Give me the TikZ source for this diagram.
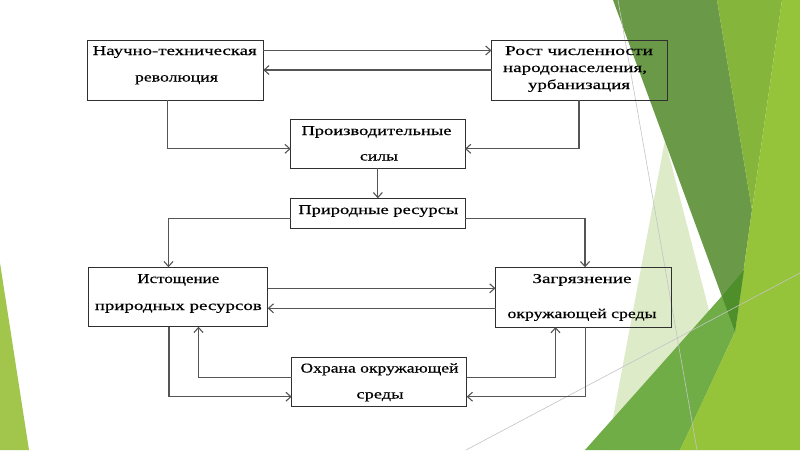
\documentclass[tikz,border=0pt]{standalone}
\usepackage{fontspec}
\setmainfont{Liberation Serif}[FakeBold=0.4]
\usepackage{graphicx}
\usetikzlibrary{arrows.meta}
\definecolor{boxc}{HTML}{303030}
\definecolor{linec}{HTML}{555555}
\definecolor{gpale}{HTML}{DDEBC8}
\definecolor{gmed}{HTML}{70AD47}
\definecolor{gdark}{HTML}{6A9A48}
\definecolor{gmid}{HTML}{86B53B}
\definecolor{gbright}{HTML}{95C33A}
\definecolor{gdeep}{HTML}{4F8F2B}
\definecolor{gleft}{HTML}{A2C64C}
\definecolor{gline}{HTML}{C4C4C4}
\newcommand\stt[2]{\resizebox{#1pt}{\height}{#2}}
\begin{document}
\begin{tikzpicture}[x=1pt,y=-1pt,
  box/.style={draw=boxc, line width=1pt, rectangle, inner sep=0pt, outer sep=0pt},
  txt/.style={anchor=base, inner sep=0pt, font=\fontsize{13.5}{14}\selectfont, text=black},
  arr/.style={draw=linec, line width=1.1pt, -{Straight Barb[length=5pt,width=9pt]}}]
\useasboundingbox (0,0) rectangle (800,450);
\fill[white] (0,0) rectangle (800,450);
% background facets
\fill[gleft] (0,263) -- (29,450) -- (0,450) -- cycle;
\fill[gpale] (665,140) -- (607,450) -- (745,450) -- cycle;
\fill[gmed] (585,450) -- (722,296) -- (735,332) -- (680,450) -- cycle;
\fill[gdark] (613,0) -- (717,0) -- (752,210) -- (735,332) -- cycle;
\fill[gmid] (717,0) -- (782,0) -- (752,210) -- cycle;
\fill[gbright] (782,0) -- (800,0) -- (800,450) -- (680,450) -- (735,332) -- (752,210) -- cycle;
\fill[gdeep] (722,296) -- (744,270) -- (735,332) -- cycle;
\draw[gline, line width=0.6pt] (618,0) -- (697,450);
\draw[gline, line width=0.6pt] (466,450) -- (800,273);
% boxes
\node[box, minimum width=176pt, minimum height=59.3pt] (b1) at (175.3,70.35) {};
\node[box, minimum width=175.5pt, minimum height=59.3pt] (b2) at (579.25,70.35) {};
\node[box, minimum width=174.3pt, minimum height=49pt] (b3) at (377.85,143.8) {};
\node[box, minimum width=174.3pt, minimum height=30pt] (b4) at (377.85,213.3) {};
\node[box, minimum width=179.4pt, minimum height=59.4pt] (b5) at (178,297) {};
\node[box, minimum width=176.2pt, minimum height=59.7pt] (b6) at (583.6,297.15) {};
\node[box, minimum width=175pt, minimum height=48.7pt] (b7) at (379.2,381.65) {};
% texts
\node[txt] (t1a) at (174.7,55) {\stt{164}{Научно-техническая}};
\node[txt] (t1b) at (176.5,81.5) {\stt{83}{революция}};
\node[txt] (t2a) at (579,55) {\stt{148}{Рост численности}};
\node[txt] (t2b) at (575,72) {\stt{144}{народонаселения,}};
\node[txt] (t2c) at (579,89) {\stt{102}{урбанизация}};
\node[txt] (t3a) at (376.5,135) {\stt{150}{Производительные}};
\node[txt] (t3b) at (379,160.5) {\stt{38}{силы}};
\node[txt] (t4) at (378.3,214) {\stt{160}{Природные ресурсы}};
\node[txt] (t5a) at (178.3,283) {\stt{82}{Истощение}};
\node[txt] (t5b) at (178.3,310) {\stt{167}{природных ресурсов}};
\node[txt] (t6a) at (582,283) {\stt{99}{Загрязнение}};
\node[txt] (t6b) at (582,318) {\stt{149}{окружающей среды}};
\node[txt] (t7a) at (379.5,372.5) {\stt{158}{Охрана окружающей}};
\node[txt] (t7b) at (380,398.5) {\stt{47}{среды}};
% bend coordinates
\coordinate (k12) at (0,50.5);
\coordinate (k21) at (0,70);
\coordinate (k13) at (167.7,148.8);
\coordinate (k23) at (579,148.8);
\coordinate (k45) at (168.5,218.3);
\coordinate (k46) at (585,218.3);
\coordinate (k56) at (0,288.3);
\coordinate (k65) at (0,308.3);
\coordinate (k75) at (198.5,377.3);
\coordinate (k76) at (555.5,377.3);
\coordinate (k57) at (169,396.7);
\coordinate (k67) at (585.5,396.7);
% connectors
\draw[arr] (b1.east |- k12) -- (b2.west |- k12);
\draw[arr] (b2.west |- k21) -- (b1.east |- k21);
\draw[arr] (b1.south -| k13) |- (b3.west |- k13);
\draw[arr] (b2.south -| k23) |- (b3.east |- k23);
\draw[arr] (b3.south) -- (b4.north);
\draw[arr] (b4.west |- k45) -| (b5.north -| k45);
\draw[arr] (b4.east |- k46) -| (b6.north -| k46);
\draw[arr] (b5.east |- k56) -- (b6.west |- k56);
\draw[arr] (b6.west |- k65) -- (b5.east |- k65);
\draw[arr] (b7.west |- k75) -| (b5.south -| k75);
\draw[arr] (b7.east |- k76) -| (b6.south -| k76);
\draw[arr] (b5.south -| k57) |- (b7.west |- k57);
\draw[arr] (b6.south -| k67) |- (b7.east |- k67);
\end{tikzpicture}
\end{document}
